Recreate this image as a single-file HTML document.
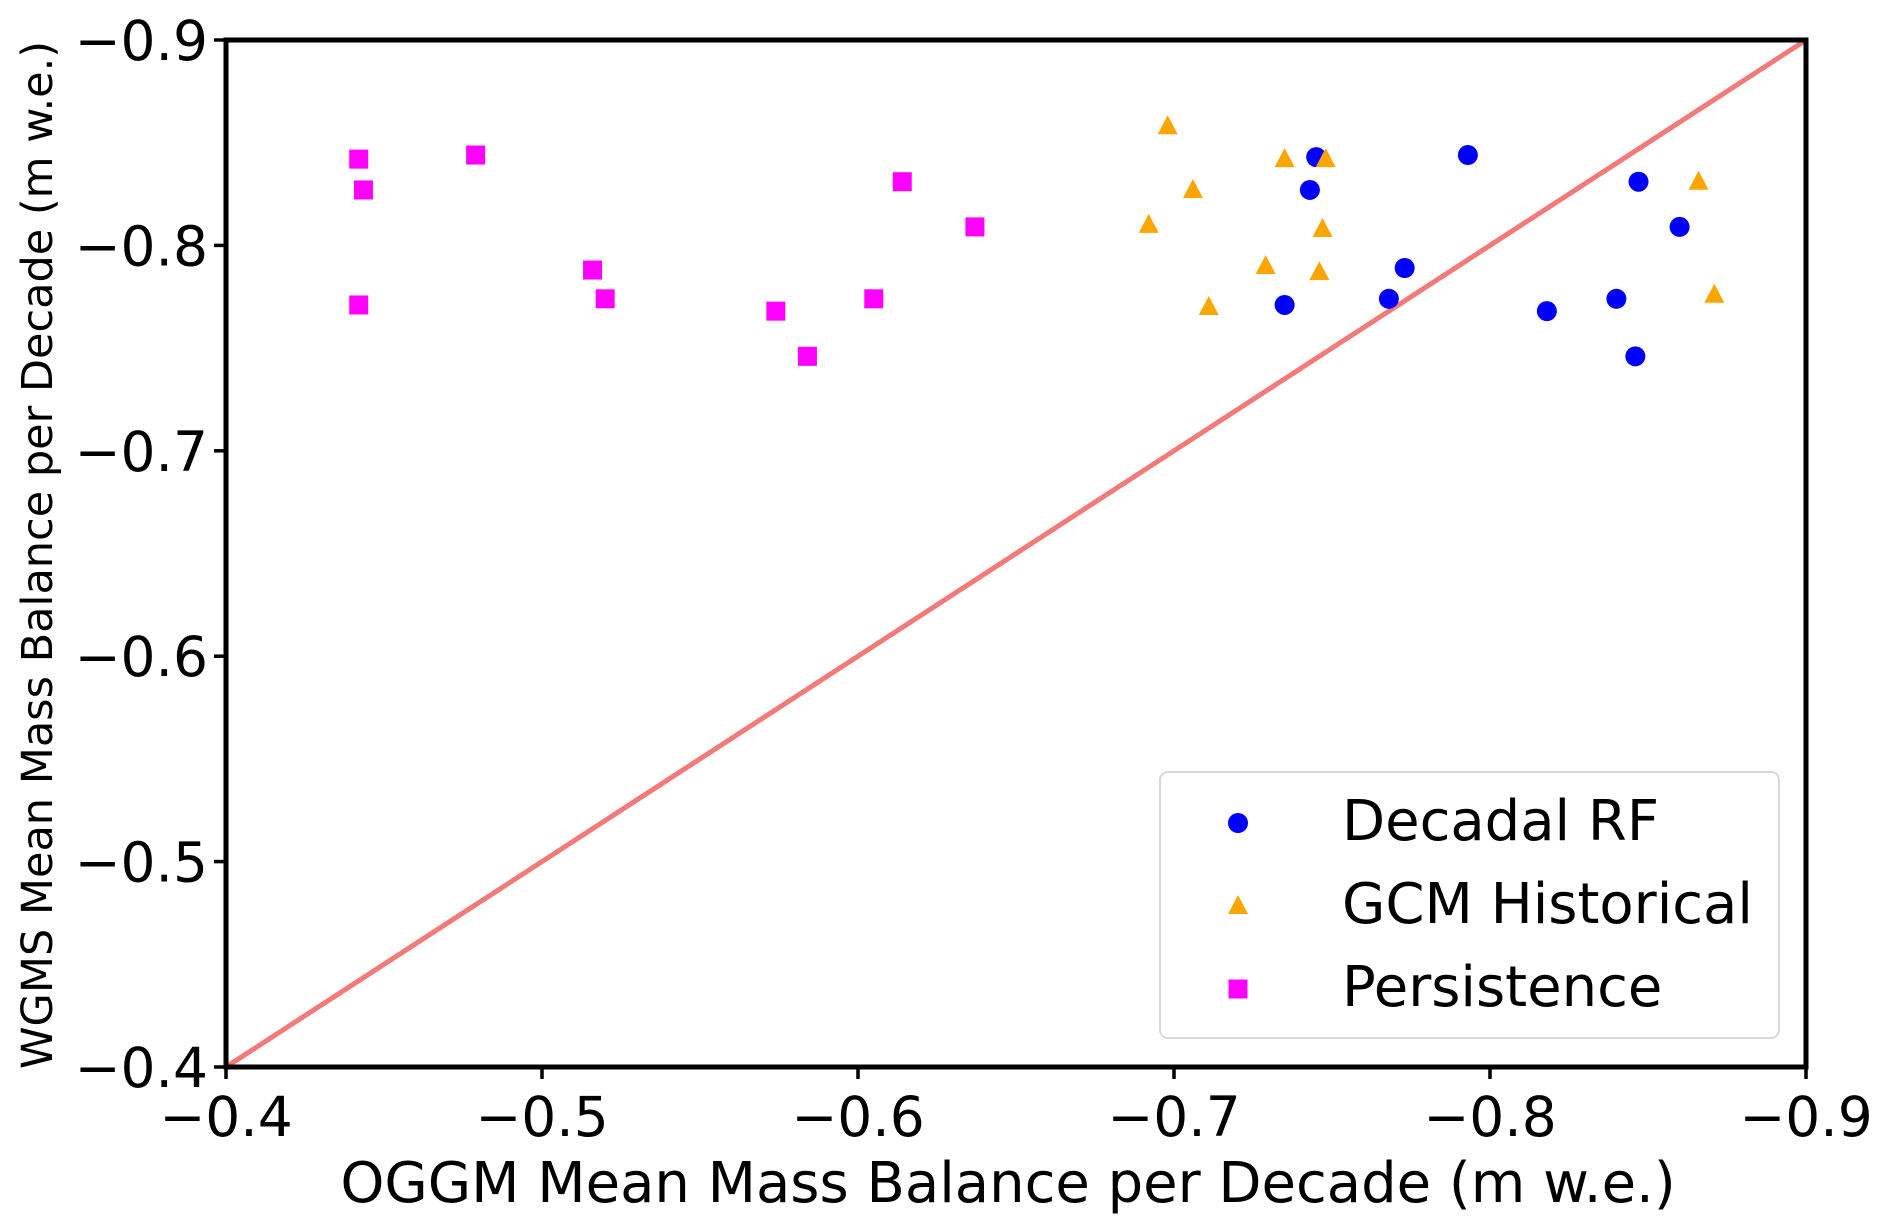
<!DOCTYPE html>
<html><head><meta charset="utf-8"><style>
html,body{margin:0;padding:0;background:#fff;}
svg{display:block;font-family:"DejaVu Sans","Liberation Sans",sans-serif;}
</style></head><body>
<svg id="chart" width="1892" height="1232" viewBox="0 0 1892 1232" xmlns="http://www.w3.org/2000/svg">
<rect x="0" y="0" width="1892" height="1232" fill="#fff"/>
<g id="plot"></g>
</svg>
<script>
const xTicks = [-0.4,-0.5,-0.6,-0.7,-0.8,-0.9];
const yTicks = [-0.4,-0.5,-0.6,-0.7,-0.8,-0.9];
const tickLabels = ["\u22120.4","\u22120.5","\u22120.6","\u22120.7","\u22120.8","\u22120.9"];
const rfX = [-0.745,-0.743,-0.793,-0.735,-0.768,-0.773,-0.818,-0.840,-0.846,-0.847,-0.860];
const rfY = [-0.843,-0.827,-0.844,-0.771,-0.774,-0.789,-0.768,-0.774,-0.746,-0.831,-0.809];
const gcmX = [-0.698,-0.735,-0.748,-0.706,-0.692,-0.747,-0.729,-0.746,-0.711,-0.866,-0.871];
const gcmY = [-0.858,-0.842,-0.842,-0.827,-0.810,-0.808,-0.790,-0.787,-0.770,-0.831,-0.776];
const perX = [-0.442,-0.4435,-0.442,-0.479,-0.516,-0.520,-0.574,-0.584,-0.605,-0.614,-0.637];
const perY = [-0.842,-0.827,-0.771,-0.844,-0.788,-0.774,-0.768,-0.746,-0.774,-0.831,-0.809];

const L=226,R=1806,T=40,B=1067;
const sx=v=>L+(v-(-0.4))/(-0.9-(-0.4))*(R-L);
const sy=v=>B-(v-(-0.4))/(-0.9-(-0.4))*(B-T);
const NS="http://www.w3.org/2000/svg";
const g=document.getElementById('plot');
function mk(tag,attrs,parent){const e=document.createElementNS(NS,tag);for(const k in attrs)e.setAttribute(k,attrs[k]);(parent||g).appendChild(e);return e;}

let ln=mk('line',{x1:sx(-0.4),y1:sy(-0.4),x2:sx(-0.9),y2:sy(-0.9),stroke:'#f47a7a','stroke-width':5});



function circle(x,y,c){return mk('circle',{cx:x,cy:y,r:10,fill:c});}
function tri(x,y,c){return mk('polygon',{points:`${x},${y-11} ${x-10},${y+8} ${x+10},${y+8}`,fill:c});}
function sq(x,y,c){return mk('rect',{x:x-9.5,y:y-9.5,width:19,height:19,fill:c});}

rfX.forEach((v,i)=>{const e=circle(sx(v),sy(rfY[i]),'#0000ff');

});
gcmX.forEach((v,i)=>{const e=tri(sx(v),sy(gcmY[i]),'#ffa500');

});
perX.forEach((v,i)=>{const e=sq(sx(v),sy(perY[i]),'#ff00ff');

});

let fr=mk('rect',{x:L,y:T,width:R-L,height:B-T,fill:'none',stroke:'#000','stroke-width':5});



xTicks.forEach((v,i)=>{const x=sx(v);
mk('line',{x1:x,y1:B,x2:x,y2:B+12,stroke:'#000','stroke-width':3.5});
const t=mk('text',{x:x,y:1136,'text-anchor':'middle','font-size':55});t.textContent=tickLabels[i];

});
yTicks.forEach((v,i)=>{const y=sy(v);
mk('line',{x1:L-12,y1:y,x2:L,y2:y,stroke:'#000','stroke-width':3.5});
const t=mk('text',{x:208,y:y+20,'text-anchor':'end','font-size':55});t.textContent=tickLabels[i];

});

let xt=mk('text',{x:1008,y:1202,'text-anchor':'middle','font-size':56});
xt.textContent='OGGM Mean Mass Balance per Decade (m w.e.)';


let yt=mk('text',{x:0,y:0,'text-anchor':'middle','font-size':43,transform:'translate(52,555) rotate(-90)'});
yt.textContent='WGMS Mean Mass Balance per Decade (m w.e.)';



const lg=mk('g',{});


mk('rect',{x:1160,y:772,width:619,height:266,rx:8,fill:'#fff',stroke:'#d8d8d8','stroke-width':2},lg);
const names=['Decadal RF','GCM Historical','Persistence'];
const ys=[820,903,986];
[circle,tri,sq].forEach((f,i)=>{const m=f(1238,ys[i]+3,['#0000ff','#ffa500','#ff00ff'][i]);lg.appendChild(m);
const t=mk('text',{x:1342,y:ys[i]+20,'font-size':56},lg);t.textContent=names[i];

});
</script>
</body></html>
